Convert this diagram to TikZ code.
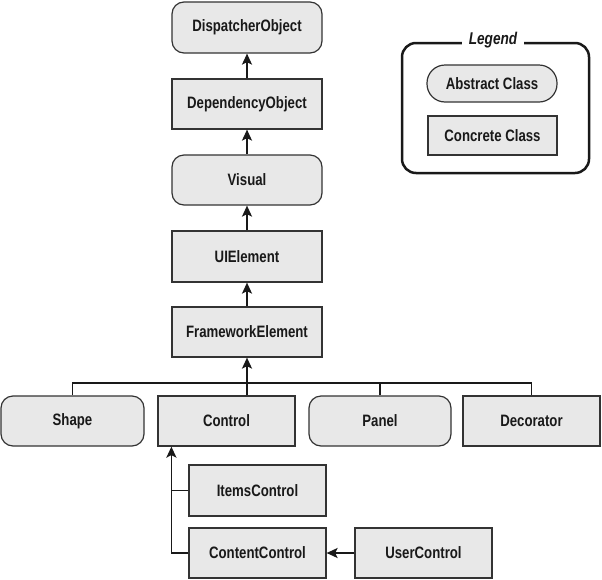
\documentclass[tikz,border=0pt]{standalone}
\usepackage{fontspec}
\setmainfont{Liberation Sans}[FakeStretch=0.8]
\usetikzlibrary{arrows.meta}
\begin{document}
\begin{tikzpicture}[x=1pt,y=-1pt,
 box/.style={draw=black!80, fill=black!9, line width=1.2pt, inner sep=0pt,
   font=\fontsize{16.5}{18}\selectfont\bfseries, text=black!90},
 cbox/.style={box},
 abox/.style={box, rounded corners=12pt},
 conn/.style={line width=1.8pt, draw=black!90},
 arr/.style={conn, -{Stealth[length=11pt,width=10pt,inset=2.5pt]}}]
\useasboundingbox (0,0) rectangle (602,579);

% main column
\node[abox, minimum width=150pt, minimum height=51pt] (disp) at (247,27.5) {DispatcherObject};
\node[cbox, minimum width=150pt, minimum height=50pt] (dep) at (247,104) {DependencyObject};
\node[abox, minimum width=150pt, minimum height=50pt] (vis) at (247,180) {Visual};
\node[cbox, minimum width=150pt, minimum height=51pt] (uie) at (247,256.5) {UIElement};
\node[cbox, minimum width=150pt, minimum height=50pt] (fwe) at (247,332) {FrameworkElement};

% bottom row
\node[abox, minimum width=143pt, minimum height=50pt] (shape) at (72.5,421) {Shape};
\node[cbox, minimum width=137pt, minimum height=50pt] (control) at (226.5,421) {Control};
\node[abox, minimum width=142pt, minimum height=50pt] (panel) at (380,421) {Panel};
\node[cbox, minimum width=137pt, minimum height=50pt] (deco) at (531.5,421) {Decorator};

% control children
\node[cbox, minimum width=137pt, minimum height=51pt] (items) at (257.5,490.5) {ItemsControl};
\node[cbox, minimum width=137pt, minimum height=50pt] (content) at (257.5,553) {ContentControl};
\node[cbox, minimum width=137pt, minimum height=50pt] (user) at (423.5,553) {UserControl};

% legend
\node[draw=black!90, line width=2.5pt, rounded corners=14pt, minimum width=187pt, minimum height=130pt] (legend) at (495.5,108) {};
\node[fill=white, inner xsep=7pt, inner ysep=1pt, font=\fontsize{17}{18}\selectfont\bfseries\itshape, text=black!90] (legendtitle) at (493,40) {Legend};
\node[box, rounded corners=18pt, minimum width=130pt, minimum height=37pt] (abs) at (492,83.5) {Abstract Class};
\node[cbox, minimum width=129pt, minimum height=39pt] (conc) at (492.5,135.5) {Concrete Class};

% connectors main column
\draw[arr] (dep.north) -- (disp.south);
\draw[arr] (vis.north) -- (dep.south);
\draw[arr] (uie.north) -- (vis.south);
\draw[arr] (fwe.north) -- (uie.south);
\draw[arr] (fwe.south |- control.north) -- (fwe.south);

% bus
\coordinate (bus) at (247,383);
\draw[conn] (shape.north) -- (shape.north |- bus) -- (deco.north |- bus) -- (deco.north);
\draw[conn] (panel.north) -- (panel.north |- bus);

% control branch
\coordinate (ctrlin) at ([xshift=14pt]control.south west);
\draw[arr] (content.west) -- (content.west -| ctrlin) -- (ctrlin);
\draw[conn] (items.west) -- (items.west -| ctrlin);
\draw[arr] (user.west) -- (content.east);
\end{tikzpicture}
\end{document}
